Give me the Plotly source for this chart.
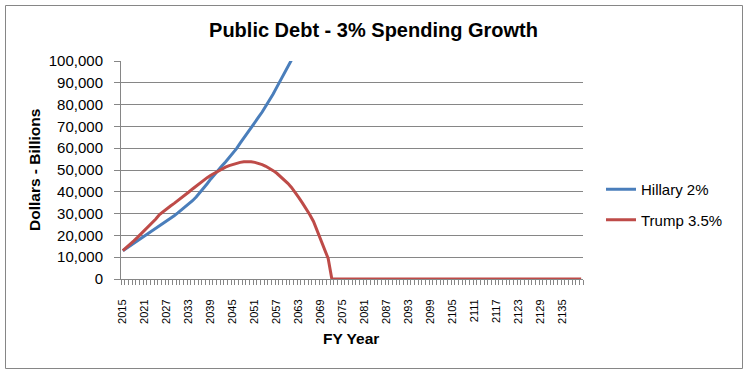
import plotly.graph_objects as go

years = list(range(2015, 2141))

hillary_years = list(range(2015, 2063))
hillary = [13000, 14200, 15400, 16500, 17700, 18800, 19900, 21000, 22100, 23200,
           24300, 25400, 26600, 27800, 29000, 30300, 31600, 33000, 34300, 35900,
           37600, 39500, 41600, 43700, 45900, 48000, 49900, 51800, 53700, 55600,
           57600, 59800, 62300, 64800, 67200, 69500, 71800, 74200, 76600, 79200,
           82000, 84900, 88000, 91000, 94000, 97200, 100400, 103600]

trump = [13000, 14400, 15900, 17500, 19100, 20800, 22400, 24000, 25700, 27500,
         29600, 31000, 32300, 33500, 34700, 35900, 37200, 38500, 39900, 41300,
         42700, 44000, 45300, 46500, 47600, 48600, 49600, 50500, 51300, 52000,
         52600, 53100, 53500, 53800, 53900, 53800, 53500, 53100, 52500, 51700,
         50800, 49700, 48500, 47100, 45600, 43900, 42000, 39800, 37300, 34800,
         32300, 29500, 26400, 22300, 18400, 14200, 9400,
         0, 0, 0, 0, 0, 0, 0, 0, 0, 0, 0, 0, 0, 0, 0, 0, 0, 0, 0, 0, 0, 0, 0,
         0, 0, 0, 0, 0, 0, 0, 0, 0, 0, 0, 0, 0, 0, 0, 0, 0, 0, 0, 0, 0, 0, 0,
         0, 0, 0, 0, 0, 0, 0, 0, 0, 0, 0, 0, 0, 0, 0, 0, 0, 0, 0, 0, 0, 0, 0]

y_ticks = [0, 10000, 20000, 30000, 40000, 50000, 60000, 70000, 80000, 90000, 100000]
x_tick_years = list(range(2015, 2141, 6))

title_text = "Public Debt - 3% Spending Growth"
y_title = "Dollars - Billions"
x_title = "FY Year"

BLUE = "#4A7EBB"
RED = "#BE4B48"
GRID = "#868686"
FONT = "Arial, Liberation Sans, sans-serif"

fig = go.Figure()
fig.add_trace(go.Scatter(x=hillary_years, y=hillary, mode="lines", name="Hillary 2%",
                         line=dict(color=BLUE, width=3), legendgroup="a"))
fig.add_trace(go.Scatter(x=years, y=trump[:len(years)], mode="lines", name="Trump 3.5%",
                         line=dict(color=RED, width=3), legendgroup="b"))

L, R, T, B = 121, 168, 61, 94
W, H = 751, 373
pw, ph = W - L - R, H - T - B

fig.update_layout(
    width=W, height=H,
    margin=dict(l=L, r=R, t=T, b=B, pad=0),
    paper_bgcolor="white", plot_bgcolor="white",
    font=dict(family=FONT, color="black"),
    title=dict(text="<b>" + title_text + "</b>", x=373.5 / W, xanchor="center",
               y=1 - 30 / H, yanchor="middle", yref="container",
               font=dict(size=20, family=FONT, color="black")),
    showlegend=True,
    legend=dict(x=(601 - L) / pw, xanchor="left", y=(T + ph - 173) / ph,
                yanchor="top", font=dict(size=15, family=FONT, color="black"),
                tracegroupgap=8, bgcolor="rgba(0,0,0,0)", itemwidth=30),
    xaxis=dict(range=[2014.5, 2140.5], tickmode="array", tickvals=x_tick_years,
               ticktext=[str(v) for v in x_tick_years], tickangle=-90,
               tickfont=dict(size=11, family=FONT, color="black"),
               ticks="", showgrid=False, zeroline=False,
               showline=True, linecolor=GRID, linewidth=1,
               ticklabelstandoff=15,
               minor=dict(ticks="outside", tick0=2014.5, dtick=1, ticklen=5,
                          tickcolor=GRID, showgrid=False)),
    yaxis=dict(range=[0, 100000], tickmode="array", tickvals=y_ticks,
               tickformat=",d", tickfont=dict(size=15, family=FONT, color="black"),
               ticks="outside", ticklen=6, tickcolor=GRID,
               showgrid=True, gridcolor=GRID, gridwidth=1, zeroline=False,
               showline=True, linecolor=GRID, linewidth=1,
               ticklabelstandoff=8),
    annotations=[
        dict(text="<b>" + y_title + "</b>", xref="paper", yref="paper",
             x=(34 - L) / pw, y=(T + ph - 170) / ph, textangle=-90,
             showarrow=False, xanchor="center", yanchor="middle",
             font=dict(size=15.5, family=FONT, color="black")),
        dict(text="<b>" + x_title + "</b>", xref="paper", yref="paper",
             x=(351 - L) / pw, y=(T + ph - 338) / ph,
             showarrow=False, xanchor="center", yanchor="middle",
             font=dict(size=15.5, family=FONT, color="black")),
    ],
    shapes=[dict(type="rect", xref="paper", yref="paper",
                 x0=(5.5 - L) / pw, x1=(742.5 - L) / pw,
                 y0=(T + ph - 368.5) / ph, y1=(T + ph - 5.5) / ph,
                 line=dict(color=GRID, width=1), fillcolor="rgba(0,0,0,0)")],
)

fig.write_html("out.html", config={"displayModeBar": False},
               post_script="document.body.style.margin='0';document.body.style.padding='0';")
